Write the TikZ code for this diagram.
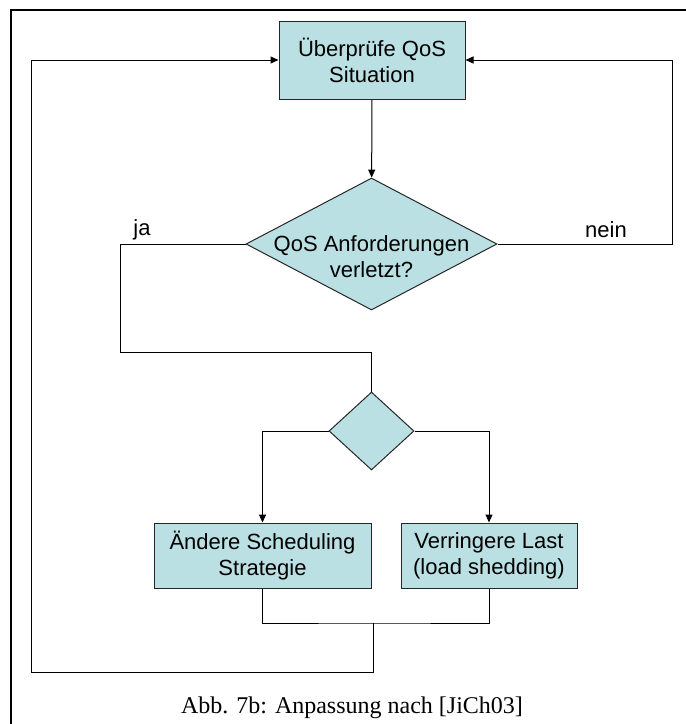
\documentclass[tikz,border=0pt]{standalone}
\usepackage{fontspec}
\setmainfont{Liberation Sans}
\newfontfamily\capfont{Liberation Serif}
\usepackage{tikz}
\usetikzlibrary{arrows.meta,positioning,shapes.geometric,calc}
\definecolor{boxfill}{RGB}{187,224,227}

\begin{document}
\begin{tikzpicture}[x=0.5pt, y=-0.5pt, line width=0.5pt,
  font=\fontsize{11}{13}\selectfont,
  proc/.style={rectangle, draw=black!85, fill=boxfill, align=center, inner sep=0pt},
  decide/.style={diamond, draw=black!85, fill=boxfill, inner sep=0pt},
  lbl/.style={align=center, inner sep=0pt},
  arr/.style={-{Triangle[length=4pt,width=3.5pt]}}]
  \useasboundingbox (0,0) rectangle (686,724);
  % frame
  \draw[line width=1pt] (686,10) -- (11,10) -- (11,724);
  % nodes
  \node[proc, minimum width=93pt, minimum height=39pt] (check) at (372,60) {Überprüfe QoS\\Situation};
  \node[decide, minimum width=125.5pt, minimum height=66pt] (viol) at (371.5,244) {};
  \node[lbl] (violtxt) at (371.5,257) {QoS Anforderungen\\verletzt?};
  \node[decide, minimum width=42.5pt, minimum height=39pt] (sel) at (371.5,431) {};
  \node[proc, minimum width=108.5pt, minimum height=32.5pt] (sched) at (262.5,555.5) {Ändere Scheduling\\Strategie};
  \node[proc, minimum width=88pt, minimum height=32.5pt] (shed) at (489,555.5) {Verringere Last\\(load shedding)};
  \node[lbl] (ja) at (142,230) {ja};
  \node[lbl] (nein) at (606,230) {nein};
  \node[lbl, font=\capfont\fontsize{12}{14}\selectfont] (cap) at (352,708) {Abb. 7b: Anpassung nach [JiCh03]};
  % bend points
  \coordinate (jaB) at (120,352);
  \coordinate (neinR) at (672,60);
  \coordinate (join) at (373,623);
  \coordinate (loopB) at (373,672);
  \coordinate (loopL) at (31.5,60);
  % connectors
  \draw[arr] (check) -- (viol);
  \draw (viol.west) -| (jaB) -| (sel.north);
  \draw[arr] (viol.east) -| (neinR) -- (check.east);
  \draw[arr] (sel.west) -| (sched.north);
  \draw[arr] (sel.east) -| (shed.north);
  \draw (sched.south) |- (join) -| (shed.south);
  \draw[arr] (join) -- (loopB) -| (loopL) -- (check.west);
\end{tikzpicture}
\end{document}
